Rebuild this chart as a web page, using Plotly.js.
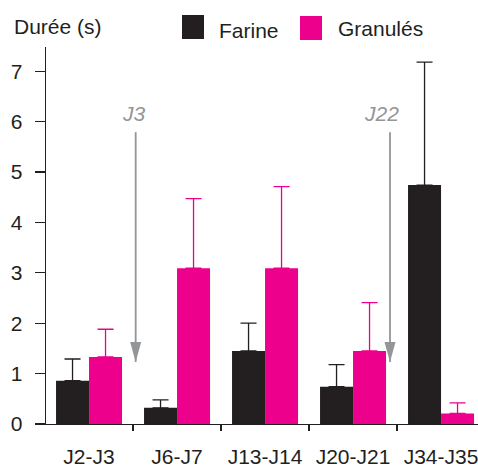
<!DOCTYPE html>
<html>
<head>
<meta charset="utf-8">
<script src="https://cdn.plot.ly/plotly-3.0.1.min.js"></script>
<style>html,body{margin:0;padding:0;background:#fff;}#chart{width:478px;height:468px;}</style>
</head>
<body>
<div id="chart"></div>
<script>
// ---- data ----
const categories = ['J2-J3', 'J6-J7', 'J13-J14', 'J20-J21', 'J34-J35'];
const seriesNames = ['Farine', 'Granulés'];
const farine = [0.86, 0.32, 1.45, 0.74, 4.74];
const farineErr = [0.43, 0.16, 0.55, 0.44, 2.44];
const granules = [1.33, 3.09, 3.09, 1.45, 0.21];
const granulesErr = [0.55, 1.38, 1.62, 0.96, 0.21];
const yTicks = [0, 1, 2, 3, 4, 5, 6, 7];
const eventLabels = ['J3', 'J22'];
const eventX = [0.53, 3.42];
const eventTop = 5.79;
const eventTip = 1.23;
const yTitle = 'Durée (s)';

// ---- style ----
const BLACK = '#231f20', PINK = '#ec008c', GREY = '#939598';
const FONT = 'Liberation Sans, Arial, sans-serif';
const FS = 21;
const W = 478, H = 468, ML = 46, MR = 0, MT = 47, MB = 44;
const PW = W - ML - MR, PH = H - MT - MB;
const px = x => (x - ML) / PW;
const py = y => (H - MB - y) / PH;
const labelShift = [-2, -9];

const zeros = categories.map(() => 0);
const traces = [
  {type: 'bar', name: seriesNames[0], x: categories, y: farine,
   marker: {color: BLACK, line: {width: 0}},
   error_y: {type: 'data', symmetric: false, array: farineErr, arrayminus: zeros,
             color: BLACK, thickness: 1.3, width: 8}},
  {type: 'bar', name: seriesNames[1], x: categories, y: granules,
   marker: {color: PINK, line: {width: 0}},
   error_y: {type: 'data', symmetric: false, array: granulesErr, arrayminus: zeros,
             color: PINK, thickness: 1.3, width: 8}}
];

const shapes = [];
const annotations = [];
eventLabels.forEach((lab, i) => {
  shapes.push({type: 'line', xref: 'x', yref: 'y', x0: eventX[i], x1: eventX[i],
               y0: eventTop, y1: eventTip, line: {color: GREY, width: 1.8}, layer: 'above'});
  shapes.push({type: 'path', xref: 'x', yref: 'y', xsizemode: 'pixel', ysizemode: 'pixel',
               xanchor: eventX[i], yanchor: eventTip,
               path: 'M-5.5,20 L5.5,20 L0,0 Z', fillcolor: GREY, line: {width: 0}, layer: 'above'});
  annotations.push({xref: 'x', yref: 'y', x: eventX[i], y: eventTop, yshift: 5,
                    text: '<i>' + lab + '</i>', showarrow: false, xanchor: 'center', yanchor: 'bottom',
                    xshift: labelShift[i], font: {family: FONT, size: FS, color: GREY}});
});

// legend (custom, large swatches)
const legendSwatchX = [182, 300];
const legendTextX = [217, 336];
const legendColors = [BLACK, PINK];
seriesNames.forEach((nm, i) => {
  shapes.push({type: 'rect', xref: 'paper', yref: 'paper',
               x0: px(legendSwatchX[i]), x1: px(legendSwatchX[i] + 22),
               y0: py(15 + i), y1: py(39 + i), fillcolor: legendColors[i], line: {width: 0}});
  annotations.push({xref: 'paper', yref: 'paper', x: px(legendTextX[i]), y: py(i === 0 ? 31 : 28),
                    text: nm, showarrow: false, xanchor: 'left', yanchor: 'middle',
                    font: {family: FONT, size: FS, color: BLACK}});
});
annotations.push({xref: 'paper', yref: 'paper', x: px(12), y: py(27), text: yTitle,
                  showarrow: false, xanchor: 'left', yanchor: 'middle',
                  font: {family: FONT, size: FS, color: BLACK}});

const layout = {
  width: W, height: H,
  margin: {l: ML, r: MR, t: MT, b: MB, pad: 0},
  paper_bgcolor: '#fff', plot_bgcolor: '#fff',
  barmode: 'group', bargap: 0.25, bargroupgap: 0,
  showlegend: false,
  font: {family: FONT, size: FS, color: BLACK},
  xaxis: {type: 'category', range: [-0.489, 4.42], showline: true, linecolor: BLACK, linewidth: 1.3,
          ticks: 'outside', tickson: 'boundaries', ticklen: 6, tickwidth: 1.3, tickcolor: BLACK,
          ticklabelstandoff: 13, showgrid: false, zeroline: false, fixedrange: true,
          tickfont: {family: FONT, size: FS, color: BLACK}},
  yaxis: {range: [0, 7.48], tickvals: yTicks, showline: true, linecolor: BLACK, linewidth: 1.3,
          ticks: 'outside', ticklen: 10, tickwidth: 1.3, tickcolor: BLACK, ticklabelstandoff: 8,
          showgrid: false, zeroline: false, fixedrange: true,
          tickfont: {family: FONT, size: FS, color: BLACK}},
  shapes: shapes,
  annotations: annotations
};

Plotly.newPlot('chart', traces, layout, {displayModeBar: false, staticPlot: true});
</script>
</body>
</html>
